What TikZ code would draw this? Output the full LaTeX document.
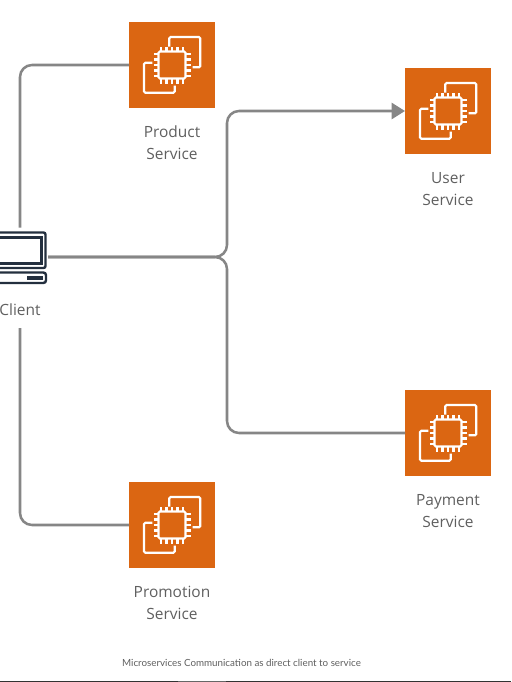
\documentclass[tikz,border=0pt]{standalone}
\usepackage{fontspec}
\setmainfont{Open Sans}
\newfontfamily\captionfont{Lato}
\usepackage{xcolor}
\usetikzlibrary{arrows.meta}
\definecolor{awsorange}{HTML}{DB6612}
\definecolor{awsnavy}{HTML}{232F3E}
\definecolor{linkgray}{HTML}{868686}
\definecolor{labelgray}{HTML}{5F5F5F}
\tikzset{
  svcbox/.style={fill=awsorange,minimum size=64.5pt,inner sep=0pt,outer sep=0pt},
  svclabel/.style={text=labelgray,font=\fontsize{11.6}{16.5}\selectfont,align=center,inner sep=0pt},
  link/.style={draw=linkgray,line width=1.9pt,rounded corners=9pt},
  chipline/.style={draw=white,line width=1.6pt,rounded corners=1pt},
  chippin/.style={draw=white,line width=1.9pt},
  pics/chipicon/.style={code={
    \draw[chipline] (-2.7,-18.3) -- (-2.7,-28) -- (28.3,-28) -- (28.3,2.3) -- (20.7,2.3);
    \draw[chipline] (-19.7,-2.3) -- (-28,-2.3) -- (-28,27.7) -- (2.7,27.7) -- (2.7,20.7);
    \draw[chipline] (-13.5,-13.5) rectangle (13.5,13.5);
    \foreach \p in {-11,-5.5,0,5.5,11}{
      \draw[chippin] (\p,-13.5) -- (\p,-18.5);
      \draw[chippin] (\p,13.5) -- (\p,18.5);
      \draw[chippin] (-13.5,\p) -- (-18.5,\p);
      \draw[chippin] (13.5,\p) -- (18.5,\p);
    }
  }}
}
\begin{document}
\begin{tikzpicture}[x=0.75pt,y=-0.75pt]
  \useasboundingbox (0,0) rectangle (511,682);

  % Services
  \node[svcbox] (product) at (172,65) {};
  \node[svcbox] (user) at (448,111) {};
  \node[svcbox] (payment) at (448,433) {};
  \node[svcbox] (promotion) at (172,525) {};
  \pic at (product) {chipicon};
  \pic at (user) {chipicon};
  \pic at (payment) {chipicon};
  \pic at (promotion) {chipicon};

  % Labels
  \node[svclabel] (productlabel) at (172,142.5) {Product\\Service};
  \node[svclabel] (userlabel) at (448,189.3) {User\\Service};
  \node[svclabel] (paymentlabel) at (448,511.3) {Payment\\Service};
  \node[svclabel] (promotionlabel) at (172,602.5) {Promotion\\Service};

  % Client
  \node[minimum width=39pt,minimum height=38.25pt,inner sep=0pt,outer sep=0pt] (client) at (20,257) {};
  \node[svclabel] (clientlabel) at (20,310) {Client};
  \draw[awsnavy,line width=1.8pt,rounded corners=1.5pt] (-6,232.5) rectangle (45.5,268);
  \draw[awsnavy,line width=1.6pt] (-6,237.5) rectangle (41.5,263.5);
  \draw[awsnavy,line width=1.8pt,rounded corners=2pt] (-6,272.5) rectangle (46,283);
  \fill[awsnavy] (27,275.5) rectangle (42.5,279.5);

  % Connectors
  \coordinate (bus) at (227,257);
  \draw[link,shorten >=3pt] (product.west) -| (client.north);
  \draw[link,shorten <=9pt] (clientlabel.south) |- (promotion.west);
  \draw[link,shorten <=1.5pt,-{Triangle[length=10pt,width=12pt]}] (client.east) -- (bus) |- (user.west);
  \draw[link,shorten <=1.5pt] (client.east) -- (bus) |- (payment.west);

  \node[text=labelgray,font=\captionfont\fontsize{7.35}{9}\selectfont,inner sep=0pt] (caption) at (241.5,663) {Microservices Communication as direct client to service};

  % Bottom edge
  \fill[black!80] (0,681) rectangle (511,682);
  \fill[black!60] (178,681) rectangle (226,682);
\end{tikzpicture}
\end{document}
